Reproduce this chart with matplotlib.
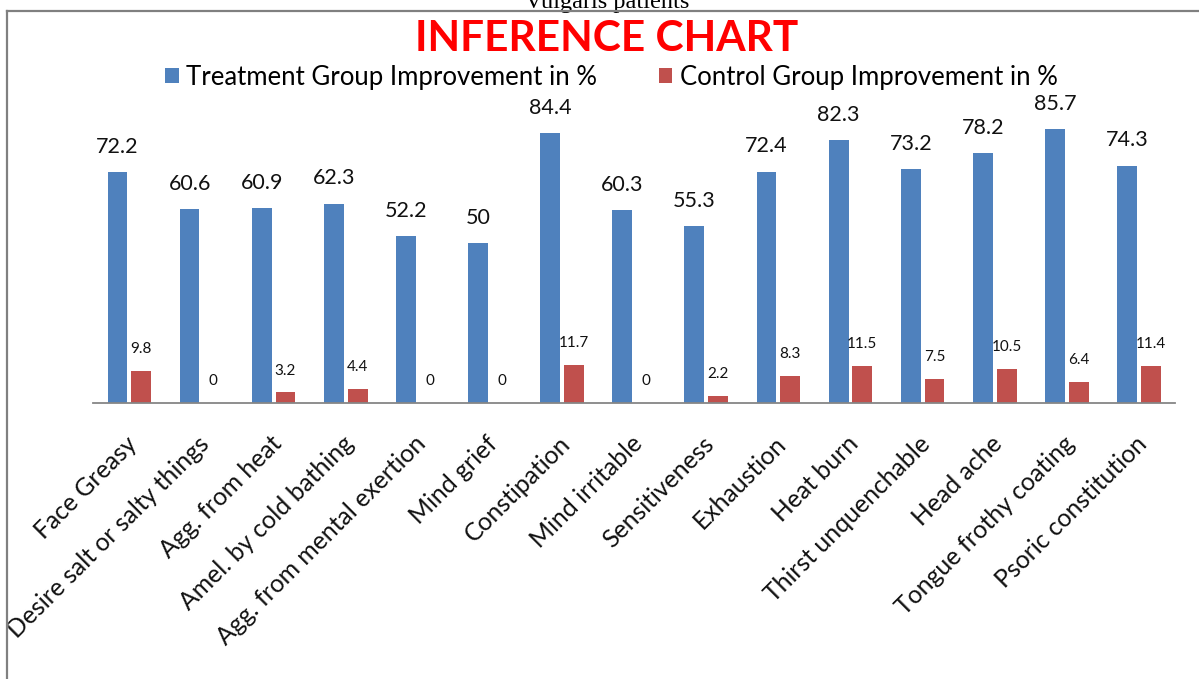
import numpy as np
import matplotlib.pyplot as plt
from matplotlib.patches import Rectangle
from matplotlib.lines import Line2D
from matplotlib.transforms import ScaledTranslation

categories = ["Face Greasy", "Desire salt or salty things", "Agg. from heat",
              "Amel. by cold bathing", "Agg. from mental exertion", "Mind grief",
              "Constipation", "Mind irritable", "Sensitiveness", "Exhaustion",
              "Heat burn", "Thirst unquenchable", "Head ache",
              "Tongue frothy coating", "Psoric constitution"]
treatment = [72.2, 60.6, 60.9, 62.3, 52.2, 50, 84.4, 60.3, 55.3, 72.4, 82.3, 73.2, 78.2, 85.7, 74.3]
control = [9.8, 0, 3.2, 4.4, 0, 0, 11.7, 0, 2.2, 8.3, 11.5, 7.5, 10.5, 6.4, 11.4]
series_names = ["Treatment Group Improvement in %", "Control Group Improvement in %"]

blue = '#4F81BD'
red = '#C0504D'
W, H = 1199, 679

plt.rcParams['font.family'] = ['Lato', 'DejaVu Sans']

fig = plt.figure(figsize=(W / 100, H / 100), dpi=100)
ax = fig.add_axes([93.3 / W, (H - 402.7) / H, (1175 - 93.3) / W, 95 * 3.191 / H])

x = np.arange(len(categories))
off, bw = 0.165, 0.275
b1 = ax.bar(x - off, treatment, bw, color=blue, label=series_names[0])
b2 = ax.bar(x + off, control, bw, color=red, label=series_names[1])

for xi, v in zip(x, treatment):
    ax.annotate('%g' % v, (xi - off, v), xytext=(0, 18.4), textcoords='offset points',
                ha='center', va='center', fontsize=15.5, color='#111111')
for xi, v in zip(x, control):
    ax.annotate('%g' % v, (xi + off, v), xytext=(0, 15.8), textcoords='offset points',
                ha='center', va='center', fontsize=11, color='#111111')

ax.set_xlim(-0.5, len(categories) - 0.5)
ax.set_ylim(0, 95)
ax.set_yticks([])
ax.set_xticks(x)
ax.set_xticklabels(categories, rotation=45, ha='right', rotation_mode='anchor',
                   fontsize=17.8, color='#111111')
ax.tick_params(axis='x', length=0, pad=21)
shift = ScaledTranslation(-4 / 100, 0, fig.dpi_scale_trans)
for lbl in ax.get_xticklabels():
    lbl.set_transform(lbl.get_transform() + shift)
for s in ['top', 'right', 'left']:
    ax.spines[s].set_visible(False)
ax.spines['bottom'].set_color('#868686')
ax.spines['bottom'].set_linewidth(1.3)

# legend across the top
fig.legend(handles=[b1, b2], loc='center', bbox_to_anchor=(611.5 / W, 1 - 77 / H),
           ncol=2, frameon=False, fontsize=18.5, handlelength=0.52, handleheight=0.52,
           handletextpad=0.3, columnspacing=2.4)

fig.text(606.5 / W, 1 - 39 / H, "INFERENCE CHART", color='#FF0000', fontsize=30.5,
         fontweight='bold', ha='center', va='center')

# cut-off caption of the page above the frame
fig.text(607 / W, 1 - 8 / H, "Vulgaris patients", family='Liberation Serif',
         fontsize=17.5, ha='center', va='baseline')

# white margin + frame lines
fig.add_artist(Rectangle((0, 0), 7 / W, 1, transform=fig.transFigure,
                         color='white', zorder=10))
fig.add_artist(Line2D([7 / W, 1], [1 - 10.5 / H, 1 - 10.5 / H], transform=fig.transFigure,
                      color='#808080', lw=1.6, zorder=11))
fig.add_artist(Line2D([7 / W, 7 / W], [0, 1 - 10.5 / H], transform=fig.transFigure,
                      color='#808080', lw=1.6, zorder=11))

plt.savefig('out.png', dpi=100)
